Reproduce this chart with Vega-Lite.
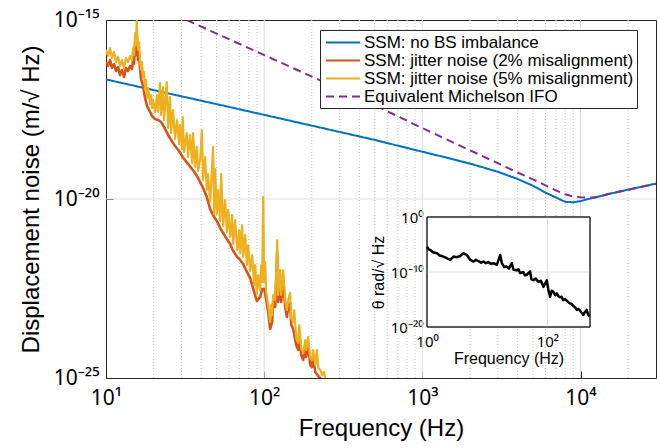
{
  "$schema": "https://vega.github.io/schema/vega-lite/v6.json",
  "width": 550,
  "height": 358,
  "autosize": {"type": "none"},
  "padding": {"left": 106, "top": 20, "right": 4, "bottom": 70},
  "background": "white",
  "config": {
    "font": "Liberation Sans",
    "view": {"stroke": "#262626", "strokeWidth": 1},
    "axis": {"labelFont": "Noto Sans", "titleFont": "Liberation Sans", "labelColor": "#000000", "titleColor": "#000000", "titleFontWeight": "normal", "domain": false, "grid": false, "labelFlush": false, "labelOverlap": false, "tickColor": "#262626"}
  },
  "datasets": {
    "gridMajor": [{"f": 100}, {"f": 1000}, {"f": 10000}],
    "gridMinor": [{"f": 20}, {"f": 30}, {"f": 40}, {"f": 50}, {"f": 60}, {"f": 70}, {"f": 80}, {"f": 90}, {"f": 200}, {"f": 300}, {"f": 400}, {"f": 500}, {"f": 600}, {"f": 700}, {"f": 800}, {"f": 900}, {"f": 2000}, {"f": 3000}, {"f": 4000}, {"f": 5000}, {"f": 6000}, {"f": 7000}, {"f": 8000}, {"f": 9000}, {"f": 20000}],
    "gridY": [{"v": 1e-20}],
    "blue": [
      {"f": 10, "v": 2.19e-17, "s": "SSM: no BS imbalance"},
      {"f": 20, "v": 1.10e-17, "s": "SSM: no BS imbalance"},
      {"f": 50, "v": 4.47e-18, "s": "SSM: no BS imbalance"},
      {"f": 100, "v": 2.24e-18, "s": "SSM: no BS imbalance"},
      {"f": 200, "v": 1.12e-18, "s": "SSM: no BS imbalance"},
      {"f": 500, "v": 4.47e-19, "s": "SSM: no BS imbalance"},
      {"f": 1000, "v": 2.09e-19, "s": "SSM: no BS imbalance"},
      {"f": 1500, "v": 1.35e-19, "s": "SSM: no BS imbalance"},
      {"f": 2000, "v": 9.77e-20, "s": "SSM: no BS imbalance"},
      {"f": 3000, "v": 5.75e-20, "s": "SSM: no BS imbalance"},
      {"f": 4000, "v": 3.63e-20, "s": "SSM: no BS imbalance"},
      {"f": 5000, "v": 2.34e-20, "s": "SSM: no BS imbalance"},
      {"f": 6000, "v": 1.51e-20, "s": "SSM: no BS imbalance"},
      {"f": 7000, "v": 1.10e-20, "s": "SSM: no BS imbalance"},
      {"f": 8000, "v": 8.32e-21, "s": "SSM: no BS imbalance"},
      {"f": 9000, "v": 8.13e-21, "s": "SSM: no BS imbalance"},
      {"f": 10000, "v": 8.71e-21, "s": "SSM: no BS imbalance"},
      {"f": 11000, "v": 9.77e-21, "s": "SSM: no BS imbalance"},
      {"f": 12000, "v": 1.07e-20, "s": "SSM: no BS imbalance"},
      {"f": 13000, "v": 1.17e-20, "s": "SSM: no BS imbalance"},
      {"f": 15000, "v": 1.38e-20, "s": "SSM: no BS imbalance"},
      {"f": 20000, "v": 1.82e-20, "s": "SSM: no BS imbalance"},
      {"f": 30000, "v": 2.69e-20, "s": "SSM: no BS imbalance"}
    ],
    "purple": [
      {"f": 32.4, "v": 1.0e-15, "s": "Equivalent Michelson IFO"},
      {"f": 50, "v": 4.17e-16, "s": "Equivalent Michelson IFO"},
      {"f": 100, "v": 1.05e-16, "s": "Equivalent Michelson IFO"},
      {"f": 200, "v": 2.63e-17, "s": "Equivalent Michelson IFO"},
      {"f": 500, "v": 4.17e-18, "s": "Equivalent Michelson IFO"},
      {"f": 1000, "v": 9.55e-19, "s": "Equivalent Michelson IFO"},
      {"f": 2000, "v": 2.29e-19, "s": "Equivalent Michelson IFO"},
      {"f": 3000, "v": 1.0e-19, "s": "Equivalent Michelson IFO"},
      {"f": 4000, "v": 5.50e-20, "s": "Equivalent Michelson IFO"},
      {"f": 5000, "v": 3.55e-20, "s": "Equivalent Michelson IFO"},
      {"f": 6000, "v": 2.40e-20, "s": "Equivalent Michelson IFO"},
      {"f": 7000, "v": 1.74e-20, "s": "Equivalent Michelson IFO"},
      {"f": 8000, "v": 1.35e-20, "s": "Equivalent Michelson IFO"},
      {"f": 9000, "v": 1.17e-20, "s": "Equivalent Michelson IFO"},
      {"f": 10000, "v": 1.12e-20, "s": "Equivalent Michelson IFO"},
      {"f": 11000, "v": 1.10e-20, "s": "Equivalent Michelson IFO"},
      {"f": 12000, "v": 1.10e-20, "s": "Equivalent Michelson IFO"},
      {"f": 13000, "v": 1.17e-20, "s": "Equivalent Michelson IFO"},
      {"f": 15000, "v": 1.38e-20, "s": "Equivalent Michelson IFO"},
      {"f": 20000, "v": 1.82e-20, "s": "Equivalent Michelson IFO"},
      {"f": 30000, "v": 2.69e-20, "s": "Equivalent Michelson IFO"}
    ],
    "orange": [
      {"f": 10.0, "v": 6.71e-17}, {"f": 10.30, "v": 5.19e-17}, {"f": 10.60, "v": 7.63e-17}, {"f": 10.91, "v": 4.56e-17},
      {"f": 11.24, "v": 5.90e-17}, {"f": 11.57, "v": 3.76e-17}, {"f": 11.91, "v": 4.87e-17}, {"f": 12.26, "v": 2.91e-17},
      {"f": 12.62, "v": 4.01e-17}, {"f": 13.00, "v": 2.56e-17}, {"f": 13.38, "v": 4.56e-17}, {"f": 13.78, "v": 3.76e-17},
      {"f": 14.18, "v": 5.19e-17}, {"f": 14.60, "v": 4.28e-17}, {"f": 14.82, "v": 7.63e-17}, {"f": 15.04, "v": 5.90e-17},
      {"f": 15.26, "v": 2.00e-16}, {"f": 15.48, "v": 1.05e-16}, {"f": 15.64, "v": 3.81e-16}, {"f": 15.94, "v": 7.63e-17},
      {"f": 16.18, "v": 1.05e-16}, {"f": 16.42, "v": 4.28e-17}, {"f": 16.66, "v": 2.25e-17}, {"f": 17.15, "v": 1.43e-17},
      {"f": 17.66, "v": 6.63e-18}, {"f": 18.18, "v": 3.96e-18}, {"f": 19.00, "v": 2.69e-18}, {"f": 19.55, "v": 2.08e-18},
      {"f": 20.43, "v": 1.72e-18}, {"f": 21.34, "v": 1.61e-18}, {"f": 22.29, "v": 1.42e-18}, {"f": 23.29, "v": 1.03e-18},
      {"f": 24.69, "v": 6.13e-19}, {"f": 25.79, "v": 4.45e-19}, {"f": 27.34, "v": 3.02e-19}, {"f": 28.98, "v": 2.19e-19},
      {"f": 30.27, "v": 1.59e-19}, {"f": 31.16, "v": 1.31e-19}, {"f": 33.03, "v": 9.50e-20}, {"f": 35.02, "v": 6.89e-20},
      {"f": 36.58, "v": 5.32e-20}, {"f": 38.22, "v": 3.86e-20}, {"f": 41.11, "v": 2.03e-20}, {"f": 43.39, "v": 1.14e-20},
      {"f": 45.52, "v": 5.26e-21}, {"f": 48.26, "v": 3.14e-21}, {"f": 50.19, "v": 2.43e-21}, {"f": 52.68, "v": 1.55e-21},
      {"f": 55.04, "v": 1.12e-21}, {"f": 58.08, "v": 7.63e-22}, {"f": 60.95, "v": 5.53e-22}, {"f": 63.67, "v": 3.53e-22},
      {"f": 67.50, "v": 2.40e-22}, {"f": 70.51, "v": 1.98e-22}, {"f": 73.66, "v": 1.53e-22}, {"f": 77.74, "v": 9.14e-23},
      {"f": 81.56, "v": 6.21e-23}, {"f": 86.46, "v": 2.53e-23}, {"f": 89.91, "v": 1.42e-23}, {"f": 94.34, "v": 1.83e-23},
      {"f": 97.13, "v": 3.06e-23}, {"f": 100.0, "v": 3.06e-23}, {"f": 102.96, "v": 1.61e-23}, {"f": 106.0, "v": 6.98e-24},
      {"f": 109.1, "v": 2.34e-24}, {"f": 112.4, "v": 3.67e-24}, {"f": 114.0, "v": 1.33e-23}, {"f": 117.4, "v": 9.62e-24},
      {"f": 120.9, "v": 3.31e-22}, {"f": 122.6, "v": 1.33e-23}, {"f": 126.2, "v": 5.46e-23}, {"f": 128.1, "v": 1.33e-23},
      {"f": 131.9, "v": 5.46e-23}, {"f": 135.8, "v": 9.62e-24}, {"f": 139.2, "v": 5.06e-24}, {"f": 141.9, "v": 9.62e-24},
      {"f": 146.0, "v": 1.24e-23}, {"f": 148.3, "v": 3.02e-24}, {"f": 152.6, "v": 2.34e-24}, {"f": 159.4, "v": 8.35e-25},
      {"f": 164.2, "v": 6.05e-25}, {"f": 166.6, "v": 1.81e-24}, {"f": 171.5, "v": 4.39e-25}, {"f": 176.6, "v": 3.18e-25},
      {"f": 181.8, "v": 6.89e-25}, {"f": 184.5, "v": 3.86e-25}, {"f": 189.9, "v": 8.35e-25}, {"f": 195.5, "v": 2.31e-25},
      {"f": 200.4, "v": 2.03e-25}, {"f": 204.2, "v": 3.62e-25}, {"f": 210.3, "v": 1.47e-25}, {"f": 219.7, "v": 1.14e-25},
      {"f": 226.2, "v": 1.0e-25}, {"f": 232.8, "v": 6.37e-26}
    ],
    "yellow": [
      {"f": 10.0, "v": 1.45e-16}, {"f": 10.30, "v": 9.87e-17}, {"f": 10.60, "v": 1.65e-16}, {"f": 10.91, "v": 8.68e-17},
      {"f": 11.24, "v": 1.28e-16}, {"f": 11.57, "v": 6.71e-17}, {"f": 11.91, "v": 9.26e-17}, {"f": 12.26, "v": 5.19e-17},
      {"f": 12.62, "v": 7.63e-17}, {"f": 13.00, "v": 4.56e-17}, {"f": 13.38, "v": 8.68e-17}, {"f": 13.78, "v": 6.71e-17},
      {"f": 14.18, "v": 9.87e-17}, {"f": 14.60, "v": 7.63e-17}, {"f": 14.82, "v": 1.65e-16}, {"f": 15.04, "v": 1.05e-16},
      {"f": 15.26, "v": 4.33e-16}, {"f": 15.48, "v": 2.00e-16}, {"f": 15.64, "v": 1.0e-15}, {"f": 15.94, "v": 1.45e-16},
      {"f": 16.18, "v": 2.43e-16}, {"f": 16.42, "v": 7.63e-17}, {"f": 16.66, "v": 4.01e-17}, {"f": 16.90, "v": 6.71e-17},
      {"f": 17.15, "v": 2.40e-17}, {"f": 17.40, "v": 3.53e-17}, {"f": 17.66, "v": 1.11e-17}, {"f": 17.92, "v": 2.11e-17},
      {"f": 18.18, "v": 6.63e-18}, {"f": 18.45, "v": 1.26e-17}, {"f": 19.00, "v": 4.50e-18}, {"f": 19.27, "v": 8.04e-18},
      {"f": 19.55, "v": 3.48e-18}, {"f": 19.84, "v": 5.83e-18}, {"f": 20.43, "v": 2.69e-18}, {"f": 21.03, "v": 8.04e-18},
      {"f": 21.34, "v": 2.69e-18}, {"f": 21.97, "v": 1.74e-17}, {"f": 22.29, "v": 2.22e-18}, {"f": 22.95, "v": 1.34e-17},
      {"f": 23.29, "v": 1.61e-18}, {"f": 24.22, "v": 1.85e-17}, {"f": 24.69, "v": 9.62e-19}, {"f": 25.42, "v": 7.07e-18},
      {"f": 25.79, "v": 6.98e-19}, {"f": 26.55, "v": 3.06e-18}, {"f": 27.34, "v": 4.74e-19}, {"f": 28.14, "v": 1.61e-18},
      {"f": 28.98, "v": 3.44e-19}, {"f": 29.40, "v": 1.17e-18}, {"f": 30.27, "v": 2.49e-19}, {"f": 30.58, "v": 1.95e-18},
      {"f": 31.16, "v": 2.06e-19}, {"f": 32.41, "v": 6.98e-19}, {"f": 33.03, "v": 1.49e-19}, {"f": 34.01, "v": 6.13e-19},
      {"f": 35.02, "v": 1.01e-19}, {"f": 35.53, "v": 6.98e-19}, {"f": 36.58, "v": 7.83e-20}, {"f": 37.50, "v": 2.84e-19},
      {"f": 38.22, "v": 6.05e-20}, {"f": 39.36, "v": 1.23e-19}, {"f": 40.35, "v": 8.46e-19}, {"f": 41.11, "v": 3.39e-20},
      {"f": 42.33, "v": 1.49e-19}, {"f": 43.39, "v": 1.78e-20}, {"f": 44.21, "v": 4.99e-20}, {"f": 45.52, "v": 8.25e-21},
      {"f": 46.19, "v": 2.46e-20}, {"f": 47.56, "v": 2.84e-19}, {"f": 48.26, "v": 3.81e-21}, {"f": 48.97, "v": 6.89e-20},
      {"f": 50.19, "v": 3.81e-21}, {"f": 51.16, "v": 1.78e-20}, {"f": 52.68, "v": 2.43e-21}, {"f": 53.45, "v": 4.99e-20},
      {"f": 55.04, "v": 1.76e-21}, {"f": 56.66, "v": 9.38e-21}, {"f": 58.08, "v": 1.20e-21}, {"f": 59.19, "v": 4.93e-21},
      {"f": 60.95, "v": 8.68e-22}, {"f": 62.75, "v": 3.57e-21}, {"f": 63.67, "v": 5.53e-22}, {"f": 65.56, "v": 2.59e-21},
      {"f": 67.50, "v": 3.76e-22}, {"f": 69.50, "v": 1.36e-21}, {"f": 70.51, "v": 3.10e-22}, {"f": 72.60, "v": 1.88e-21},
      {"f": 73.66, "v": 2.40e-22}, {"f": 75.84, "v": 9.87e-22}, {"f": 77.74, "v": 1.43e-22}, {"f": 79.22, "v": 5.19e-22},
      {"f": 81.56, "v": 9.74e-23}, {"f": 83.97, "v": 2.73e-22}, {"f": 86.46, "v": 3.96e-23}, {"f": 87.73, "v": 1.43e-22},
      {"f": 89.91, "v": 2.22e-23}, {"f": 91.63, "v": 7.54e-23}, {"f": 94.34, "v": 2.87e-23}, {"f": 95.72, "v": 1.43e-22},
      {"f": 97.13, "v": 4.80e-23}, {"f": 98.55, "v": 1.14e-20}, {"f": 100.0, "v": 4.80e-23}, {"f": 101.47, "v": 1.74e-22},
      {"f": 102.96, "v": 2.53e-23}, {"f": 106.0, "v": 1.09e-23}, {"f": 109.1, "v": 3.67e-24}, {"f": 110.7, "v": 1.09e-23},
      {"f": 112.4, "v": 5.75e-24}, {"f": 114.0, "v": 2.08e-23}, {"f": 117.4, "v": 1.51e-23}, {"f": 120.9, "v": 7.16e-22},
      {"f": 122.6, "v": 2.08e-23}, {"f": 126.2, "v": 1.04e-22}, {"f": 128.1, "v": 2.08e-23}, {"f": 131.9, "v": 1.04e-22},
      {"f": 135.8, "v": 1.51e-23}, {"f": 139.2, "v": 7.93e-24}, {"f": 141.9, "v": 1.51e-23}, {"f": 146.0, "v": 2.37e-23},
      {"f": 148.3, "v": 4.74e-24}, {"f": 152.6, "v": 3.67e-24}, {"f": 154.9, "v": 7.93e-24}, {"f": 159.4, "v": 1.31e-24},
      {"f": 164.2, "v": 9.50e-25}, {"f": 166.6, "v": 3.02e-24}, {"f": 171.5, "v": 6.89e-25}, {"f": 176.6, "v": 4.99e-25},
      {"f": 181.8, "v": 1.15e-24}, {"f": 184.5, "v": 6.05e-25}, {"f": 189.9, "v": 1.40e-24}, {"f": 195.5, "v": 3.62e-25},
      {"f": 200.4, "v": 3.18e-25}, {"f": 204.2, "v": 6.05e-25}, {"f": 210.3, "v": 2.31e-25}, {"f": 215.5, "v": 6.05e-25},
      {"f": 219.7, "v": 1.90e-25}, {"f": 226.2, "v": 1.67e-25}, {"f": 232.8, "v": 1.21e-25}, {"f": 239.8, "v": 1.47e-25},
      {"f": 246.9, "v": 5.2e-26}
    ],
    "inset": [
      {"fi": 1.0, "vi": 3.98e-6}, {"fi": 1.072, "vi": 1.26e-6}, {"fi": 1.135, "vi": 1e-6}, {"fi": 1.259, "vi": 3.98e-7},
      {"fi": 1.466, "vi": 2.51e-7}, {"fi": 1.62, "vi": 1.0e-7}, {"fi": 1.778, "vi": 7.94e-8}, {"fi": 1.95, "vi": 5.0e-8}, {"fi": 2.148, "vi": 3.16e-8}, {"fi": 2.432, "vi": 1.58e-8},
      {"fi": 2.761, "vi": 6.31e-8}, {"fi": 3.141, "vi": 5.01e-8}, {"fi": 3.548, "vi": 7.94e-8}, {"fi": 4.046, "vi": 2.51e-7},
      {"fi": 4.603, "vi": 1.26e-7}, {"fi": 5.224, "vi": 1.58e-8}, {"fi": 5.929, "vi": 7.94e-9}, {"fi": 6.5, "vi": 1.6e-8}, {"fi": 7.079, "vi": 1e-8},
      {"fi": 7.9, "vi": 5.0e-9}, {"fi": 8.690, "vi": 7.94e-9}, {"fi": 9.5, "vi": 4.0e-9}, {"fi": 10.47, "vi": 6.31e-9}, {"fi": 11.5, "vi": 3.2e-9}, {"fi": 12.74, "vi": 3.98e-9}, {"fi": 14.49, "vi": 2.0e-9},
      {"fi": 15.42, "vi": 1.58e-8}, {"fi": 16.44, "vi": 1.26e-7}, {"fi": 17.54, "vi": 3.98e-9}, {"fi": 19.2, "vi": 8.0e-10}, {"fi": 21.23, "vi": 1e-9},
      {"fi": 23.0, "vi": 4.0e-10}, {"fi": 25.70, "vi": 3.98e-9}, {"fi": 27.35, "vi": 2.51e-10}, {"fi": 30.90, "vi": 2.0e-10}, {"fi": 33.0, "vi": 3.2e-10}, {"fi": 35.24, "vi": 6.31e-11},
      {"fi": 39.81, "vi": 1e-10}, {"fi": 42.5, "vi": 2.5e-11}, {"fi": 45.50, "vi": 3.16e-11}, {"fi": 51.64, "vi": 1.26e-10}, {"fi": 54.0, "vi": 5.0e-12}, {"fi": 58.61, "vi": 3.16e-12},
      {"fi": 64.0, "vi": 6.3e-12}, {"fi": 70.79, "vi": 1.58e-12}, {"fi": 78.0, "vi": 2.5e-12}, {"fi": 85.90, "vi": 2.0e-13}, {"fi": 97.72, "vi": 3.16e-12}, {"fi": 103.9, "vi": 5.01e-14},
      {"fi": 110.9, "vi": 3.16e-15}, {"fi": 118.0, "vi": 4.0e-14}, {"fi": 125.9, "vi": 2.51e-14}, {"fi": 135.0, "vi": 6.3e-15}, {"fi": 143.2, "vi": 1.26e-14}, {"fi": 152.0, "vi": 4.0e-15}, {"fi": 162.2, "vi": 2.51e-15},
      {"fi": 172.0, "vi": 3.2e-15}, {"fi": 184.1, "vi": 7.94e-16}, {"fi": 196.0, "vi": 1.26e-15}, {"fi": 208.9, "vi": 6.31e-16}, {"fi": 222.0, "vi": 3.2e-16}, {"fi": 237.7, "vi": 2.0e-16}, {"fi": 252.0, "vi": 1.6e-16}, {"fi": 269.2, "vi": 6.31e-17},
      {"fi": 288.0, "vi": 4.0e-17}, {"fi": 307.6, "vi": 1.26e-17}, {"fi": 326.0, "vi": 2.0e-17}, {"fi": 346.7, "vi": 1e-17}, {"fi": 370.0, "vi": 4.0e-18}, {"fi": 395.4, "vi": 1.58e-18}, {"fi": 420.0, "vi": 5.0e-18}, {"fi": 449.8, "vi": 1.26e-17},
      {"fi": 475.0, "vi": 2.0e-18}, {"fi": 500, "vi": 7.94e-19}
    ]
  },
  "layer": [
    {
      "layer": [
        {
          "data": {"name": "gridMinor"},
          "mark": {"type": "rule", "color": "#c8c8c8", "strokeWidth": 1, "strokeDash": [1, 2]},
          "encoding": {"x": {"field": "f", "type": "quantitative", "scale": {"type": "log", "domain": [10, 30000]},
            "axis": {"orient": "bottom", "values": [10, 100, 1000, 10000], "labelExpr": "datum.value < 50 ? '10¹' : datum.value < 500 ? '10²' : datum.value < 5000 ? '10³' : '10⁴'", "title": "Frequency (Hz)", "labelFontSize": 21, "titleFontSize": 24, "tickSize": -7, "tickWidth": 1, "labelPadding": 16, "titlePadding": 8}}}
        },
        {
          "data": {"name": "gridY"},
          "mark": {"type": "rule", "color": "#dedede", "strokeWidth": 1},
          "encoding": {"y": {"field": "v", "type": "quantitative", "scale": {"type": "log", "domain": [1e-25, 1e-15]},
            "axis": {"orient": "left", "values": [1e-25, 1e-20, 1e-15], "labelExpr": "datum.value > 1e-16 ? '10⁻¹⁵' : datum.value > 1e-21 ? '10⁻²⁰' : '10⁻²⁵'", "title": "Displacement noise (m/√ Hz)", "labelFontSize": 21, "titleFontSize": 24, "tickSize": -7, "tickWidth": 1, "labelPadding": 14, "titlePadding": 10}}}
        },
        {
          "data": {"name": "gridMajor"},
          "mark": {"type": "rule", "color": "#dedede", "strokeWidth": 1},
          "encoding": {"x": {"field": "f", "type": "quantitative", "scale": {"type": "log", "domain": [10, 30000]}, "title": "Frequency (Hz)"}}
        },
        {
          "data": {"name": "blue"},
          "mark": {"type": "line", "strokeWidth": 2, "clip": true},
          "encoding": {
            "x": {"field": "f", "type": "quantitative", "scale": {"type": "log", "domain": [10, 30000]}, "title": "Frequency (Hz)"},
            "y": {"field": "v", "type": "quantitative", "scale": {"type": "log", "domain": [1e-25, 1e-15]}, "title": "Displacement noise (m/√ Hz)"},
            "color": {"field": "s", "type": "nominal", "title": null,
              "scale": {"domain": ["SSM: no BS imbalance", "SSM: jitter noise (2% misalignment)", "SSM: jitter noise (5% misalignment)", "Equivalent Michelson IFO"], "range": ["#0072BD", "#D95319", "#EDB120", "#7E2F8E"]},
              "legend": {"orient": "none", "legendX": 214, "legendY": 10, "symbolType": "M-2,0H2", "symbolSize": 289, "symbolStrokeWidth": 2, "symbolOffset": 10.5, "labelOffset": 11.5, "labelFontSize": 17, "labelFont": "Liberation Sans", "labelColor": "#000000", "labelLimit": 400, "strokeColor": "#262626", "fillColor": "white", "padding": 3, "rowPadding": 0}},
            "strokeDash": {"field": "s", "type": "nominal", "title": null,
              "scale": {"domain": ["SSM: no BS imbalance", "SSM: jitter noise (2% misalignment)", "SSM: jitter noise (5% misalignment)", "Equivalent Michelson IFO"], "range": [[1, 0], [1, 0], [1, 0], [8, 5]]},
              "legend": {"orient": "none", "legendX": 214, "legendY": 10, "symbolType": "M-2,0H2", "symbolSize": 289, "symbolStrokeWidth": 2, "symbolOffset": 10.5, "labelOffset": 11.5, "labelFontSize": 17, "labelFont": "Liberation Sans", "labelColor": "#000000", "labelLimit": 400, "strokeColor": "#262626", "fillColor": "white", "padding": 3, "rowPadding": 0}}
          }
        },
        {
          "data": {"name": "orange"},
          "transform": [{"calculate": "'SSM: jitter noise (2% misalignment)'", "as": "s"}],
          "mark": {"type": "line", "strokeWidth": 2.6, "strokeJoin": "round", "clip": true},
          "encoding": {
            "x": {"field": "f", "type": "quantitative", "scale": {"type": "log", "domain": [10, 30000]}, "title": "Frequency (Hz)"},
            "y": {"field": "v", "type": "quantitative", "scale": {"type": "log", "domain": [1e-25, 1e-15]}, "title": "Displacement noise (m/√ Hz)"},
            "color": {"field": "s", "type": "nominal"},
            "strokeDash": {"field": "s", "type": "nominal"}
          }
        },
        {
          "data": {"name": "yellow"},
          "transform": [{"calculate": "'SSM: jitter noise (5% misalignment)'", "as": "s"}],
          "mark": {"type": "line", "strokeWidth": 2.2, "strokeJoin": "round", "clip": true},
          "encoding": {
            "x": {"field": "f", "type": "quantitative", "scale": {"type": "log", "domain": [10, 30000]}, "title": "Frequency (Hz)"},
            "y": {"field": "v", "type": "quantitative", "scale": {"type": "log", "domain": [1e-25, 1e-15]}, "title": "Displacement noise (m/√ Hz)"},
            "color": {"field": "s", "type": "nominal"},
            "strokeDash": {"field": "s", "type": "nominal"}
          }
        },
        {
          "data": {"name": "purple"},
          "mark": {"type": "line", "strokeWidth": 2, "clip": true},
          "encoding": {
            "x": {"field": "f", "type": "quantitative", "scale": {"type": "log", "domain": [10, 30000]}, "title": "Frequency (Hz)"},
            "y": {"field": "v", "type": "quantitative", "scale": {"type": "log", "domain": [1e-25, 1e-15]}, "title": "Displacement noise (m/√ Hz)"},
            "color": {"field": "s", "type": "nominal"},
            "strokeDash": {"field": "s", "type": "nominal"}
          }
        }
      ]
    },
    {
      "layer": [
        {
          "data": {"values": [{}]},
          "mark": {"type": "rect", "fill": "white", "stroke": "#262626", "strokeWidth": 1},
          "encoding": {
            "x": {"datum": 1, "type": "quantitative", "scale": {"type": "log", "domain": [1, 510], "range": [321, 484]},
              "axis": {"orient": "bottom", "offset": -51, "values": [1, 100], "labelExpr": "datum.value < 10 ? '10⁰' : '10²'", "title": "Frequency (Hz)", "labelFontSize": 15, "titleFontSize": 16, "ticks": false, "labelPadding": 7, "titlePadding": 1}},
            "x2": {"datum": 510},
            "y": {"datum": 1e-20, "type": "quantitative", "scale": {"type": "log", "domain": [1e-20, 1], "range": [307, 197]},
              "axis": {"orient": "left", "offset": -321, "values": [1e-20, 1e-10, 1], "labelExpr": "datum.value > 1e-5 ? '10⁰' : datum.value > 1e-15 ? '10⁻¹⁰' : '10⁻²⁰'", "title": "θ rad/√ Hz", "labelFontSize": 15, "titleFontSize": 16, "ticks": false, "labelPadding": 4, "titlePadding": 4}},
            "y2": {"datum": 1}
          }
        },
        {
          "data": {"values": [{}]},
          "mark": {"type": "rule", "color": "#dedede", "strokeWidth": 1},
          "encoding": {
            "x": {"datum": 100, "type": "quantitative", "scale": {"type": "log", "domain": [1, 510], "range": [321, 484]}},
            "y": {"datum": 1e-20, "type": "quantitative", "scale": {"type": "log", "domain": [1e-20, 1], "range": [307, 197]}},
            "y2": {"datum": 1}
          }
        },
        {
          "data": {"values": [{}]},
          "mark": {"type": "rule", "color": "#dedede", "strokeWidth": 1},
          "encoding": {
            "x": {"datum": 1, "type": "quantitative", "scale": {"type": "log", "domain": [1, 510], "range": [321, 484]}},
            "x2": {"datum": 510},
            "y": {"datum": 1e-10, "type": "quantitative", "scale": {"type": "log", "domain": [1e-20, 1], "range": [307, 197]}}
          }
        },
        {
          "data": {"values": [{}]},
          "mark": {"type": "rect", "fill": null, "fillOpacity": 0, "stroke": "#262626", "strokeWidth": 1},
          "encoding": {
            "x": {"datum": 1, "type": "quantitative", "scale": {"type": "log", "domain": [1, 510], "range": [321, 484]}},
            "x2": {"datum": 510},
            "y": {"datum": 1e-20, "type": "quantitative", "scale": {"type": "log", "domain": [1e-20, 1], "range": [307, 197]}},
            "y2": {"datum": 1}
          }
        },
        {
          "data": {"name": "inset"},
          "mark": {"type": "line", "color": "#000000", "strokeWidth": 2.5, "strokeJoin": "round", "clip": true},
          "encoding": {
            "x": {"field": "fi", "type": "quantitative", "scale": {"type": "log", "domain": [1, 510], "range": [321, 484]}},
            "y": {"field": "vi", "type": "quantitative", "scale": {"type": "log", "domain": [1e-20, 1], "range": [307, 197]}}
          }
        }
      ]
    }
  ],
  "resolve": {"scale": {"x": "independent", "y": "independent"}, "axis": {"x": "independent", "y": "independent"}}
}
